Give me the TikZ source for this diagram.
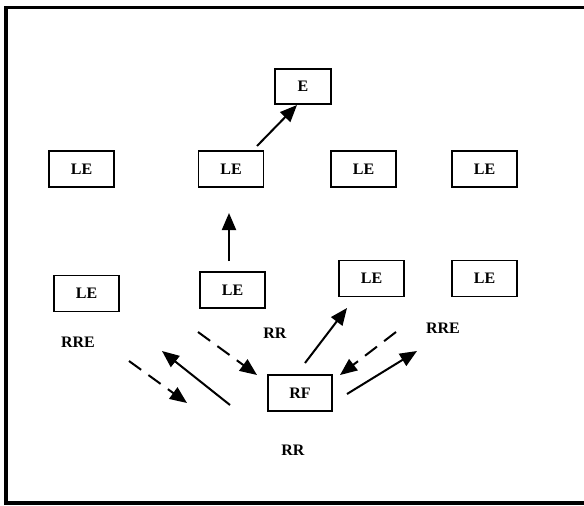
\documentclass[tikz,border=0pt]{standalone}
\usepackage{fontspec}
\setmainfont{Liberation Serif}
\usetikzlibrary{arrows.meta}
\begin{document}
\begin{tikzpicture}[x=1pt,y=-1pt,
  box/.style={draw, line width=1.8pt, minimum width=65pt, minimum height=36pt,
    inner sep=0pt, font=\bfseries\fontsize{16}{16}\selectfont},
  lbl/.style={font=\bfseries\fontsize{16}{16}\selectfont, inner sep=0pt},
  link/.style={line width=2pt, -{Triangle[length=17pt,width=14pt]}},
  dlink/.style={link, dash pattern=on 15pt off 9pt}]
\useasboundingbox (0,0) rectangle (584,506);
% outer frame, open on the right
\draw[line width=3.5pt] (595,7.5) -- (6,7.5) -- (6,503) -- (595,503);

% boxes
\node[box, minimum width=56pt, minimum height=35pt] (E) at (303,86.5) {E};
\node[box] (LEa) at (81.5,169) {LE};
\node[box] (LEb) at (231,169) {LE};
\node[box] (LEc) at (363.5,169) {LE};
\node[box] (LEd) at (484.5,169) {LE};
\node[box] (LEe) at (86.5,293.5) {LE};
\node[box] (LEf) at (232.5,290) {LE};
\node[box] (LEg) at (371.5,278.5) {LE};
\node[box] (LEh) at (484.5,278.5) {LE};
\node[box, minimum width=64pt] (RF) at (300,393) {RF};

% labels
\node[lbl] (rreL) at (78,342) {RRE};
\node[lbl] (rrM) at (275,333) {RR};
\node[lbl] (rreR) at (443,328) {RRE};
\node[lbl] (rrB) at (293,450) {RR};

% arrow end points
\coordinate (p1) at (257,146);  \coordinate (q1) at (297,105);
\coordinate (p2) at (229,261);  \coordinate (q2) at (229,213);
\coordinate (p3) at (198,332);  \coordinate (q3) at (257,375);
\coordinate (p4) at (129,361);  \coordinate (q4) at (187,403);
\coordinate (p5) at (230,405);  \coordinate (q5) at (162,351);
\coordinate (p6) at (305,363);  \coordinate (q6) at (347,308);
\coordinate (p7) at (396,332);  \coordinate (q7) at (340,375);
\coordinate (p8) at (347,394);  \coordinate (q8) at (417,351);

% connectors
\draw[link] (p1) -- (q1);
\draw[link] (p2) -- (q2);
\draw[dlink] (p3) -- (q3);
\draw[dlink] (p4) -- (q4);
\draw[link] (p5) -- (q5);
\draw[link] (p6) -- (q6);
\draw[dlink] (p7) -- (q7);
\draw[link] (p8) -- (q8);
\end{tikzpicture}
\end{document}
